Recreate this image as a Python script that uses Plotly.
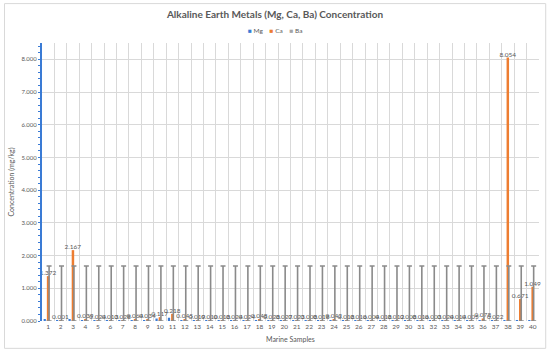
import plotly.graph_objects as go

samples = list(range(1, 41))
mg = [0.052, 0.004, 0.062, 0.012, 0.008, 0.018, 0.010, 0.020, 0.024, 0.075,
      0.100, 0.030, 0.014, 0.006, 0.006, 0.018, 0.012, 0.020, 0.022, 0.012,
      0.014, 0.006, 0.016, 0.030, 0.006, 0.006, 0.004, 0.006, 0.020, 0.006,
      0.006, 0.004, 0.008, 0.008, 0.004, 0.010, 0.008, 0.028, 0.012, 0.022]
ca = [1.372, 0.001, 2.167, 0.039, 0.024, 0.013, 0.028, 0.064, 0.034, 0.117,
      0.218, 0.045, 0.019, 0.010, 0.018, 0.024, 0.024, 0.048, 0.028, 0.027,
      0.023, 0.008, 0.018, 0.042, 0.018, 0.016, 0.004, 0.018, 0.012, 0.008,
      0.016, 0.003, 0.024, 0.014, 0.005, 0.078, 0.022, 8.054, 0.671, 1.049]
ba = [0.0] * 40
ba_err = [1.68] * 40
series_names = ["Mg", "Ca", "Ba"]

blue = "#3A7BD5"
orange = "#ED7D31"
grey = "#A5A5A5"
txt = "#595959"
font = "Lato, 'Liberation Sans', sans-serif"
colors = [blue, orange, grey]

fig = go.Figure()
fig.add_trace(go.Bar(x=samples, y=mg, name="Mg", marker_color=blue,
                     width=0.18, offset=-0.37, marker_line_width=0))
fig.add_trace(go.Bar(x=samples, y=ca, name="Ca", marker_color=orange,
                     width=0.2, offset=-0.11, marker_line_width=0,
                     text=[f"{v:.3f}" for v in ca], textposition="outside",
                     textfont=dict(size=6.5, color=txt, family=font),
                     constraintext="none", cliponaxis=False))
fig.add_trace(go.Bar(x=samples, y=ba, name="Ba", marker_color=grey,
                     width=0.04, offset=0.05, marker_line_width=0,
                     error_y=dict(type="data", array=ba_err, arrayminus=[0] * 40,
                                  symmetric=False, color="#8A8A8A",
                                  thickness=1.6, width=2.5)))

legend_text = "&nbsp;&nbsp;&nbsp;&nbsp;".join(
    f"<span style='color:{c}'>■</span>&nbsp;<span style='color:{txt}'>{n}</span>"
    for n, c in zip(series_names, colors))

fig.update_layout(
    width=550, height=354,
    margin=dict(l=41.5, r=11, t=43.3, b=33.3, autoexpand=False),
    paper_bgcolor="white", plot_bgcolor="white",
    barmode="overlay", showlegend=False,
    font=dict(family=font, color=txt, size=7),
    title=dict(text="<b>Alkaline Earth Metals (Mg, Ca, Ba) Concentration</b>",
               x=0.5, xanchor="center", y=0.96, yanchor="middle",
               font=dict(size=10, color=txt, family=font)),
    shapes=[dict(type="rect", xref="paper", yref="paper",
                 x0=-0.0754, x1=1.0135, y0=-0.0984, y1=1.1417,
                 line=dict(color="#D9D9D9", width=1), layer="below")],
    annotations=[
        dict(text=legend_text, xref="paper", yref="paper", x=0.469, y=1.044,
             xanchor="center", yanchor="middle", showarrow=False,
             font=dict(size=6.5, color=txt)),
        dict(text="Marine Samples", xref="paper", yref="paper", x=0.5, y=-0.063,
             xanchor="center", yanchor="middle", showarrow=False,
             font=dict(size=7, color=txt)),
        dict(text="Concentration (mg/kg)", xref="paper", yref="paper",
             x=-0.0633, y=0.5, xanchor="center", yanchor="middle",
             textangle=-90, showarrow=False, font=dict(size=7, color=txt)),
    ],
)

fig.update_xaxes(
    range=[0.5, 40.5], tickmode="array", tickvals=samples, automargin=False,
    ticktext=[str(s) for s in samples], tickfont=dict(size=6.5, color=txt),
    showgrid=False, zeroline=False, showline=False, ticks="",
    minor=dict(tickmode="linear", tick0=0.5, dtick=1, showgrid=True,
               gridcolor="#D9D9D9", gridwidth=1, ticks=""),
)
fig.update_yaxes(
    range=[0, 8.5], tickmode="linear", tick0=0, dtick=1, tickformat=".3f",
    automargin=False,
    tickfont=dict(size=6, color=txt), showgrid=True, gridcolor="#D9D9D9",
    gridwidth=1, zeroline=False, showline=True, linecolor=blue, linewidth=2,
    ticks="outside", ticklen=2, tickcolor=blue, tickwidth=1,
    minor=dict(tickmode="linear", dtick=0.2, ticks="outside", ticklen=2,
               tickcolor=blue, showgrid=False),
)

fig.write_html("out.html", config={"displayModeBar": False},
               post_script="document.body.style.margin='0';")
